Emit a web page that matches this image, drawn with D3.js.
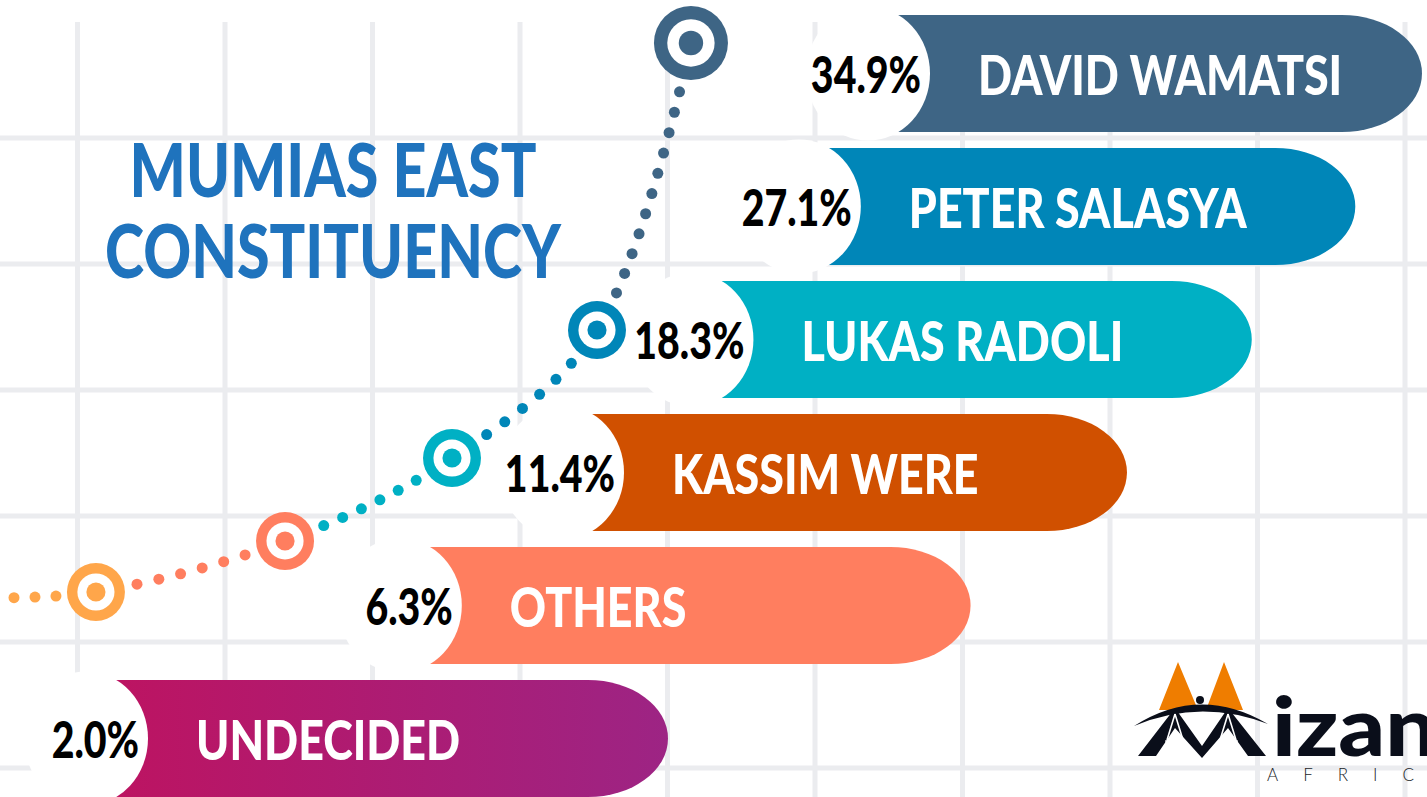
<!DOCTYPE html>
<html>
<head>
<meta charset="utf-8">
<script src="https://cdn.jsdelivr.net/npm/d3@7"></script>
<style>
  html, body { margin: 0; padding: 0; background: #fff; overflow: hidden; }
  svg { display: block; }
</style>
</head>
<body>
<svg id="chart" width="1427" height="797"></svg>
<script>
const candidates = ['DAVID WAMATSI', 'PETER SALASYA', 'LUKAS RADOLI', 'KASSIM WERE', 'OTHERS', 'UNDECIDED'];
const shares = [34.9, 27.1, 18.3, 11.4, 6.3, 2.0];
const barColors = ['#3e6585', '#0086b8', '#00b0c4', '#d05000', '#ff7e5f', 'url(#undecidedGrad)'];
const titleLines = ['MUMIAS EAST', 'CONSTITUENCY'];

// decorative rising trend, measured in grid cells (first point is the tail)
const trendU = [-0.6, 0.125, 1.407, 2.539, 3.522, 4.159];
const trendV = [4.65, 4.603, 4.198, 3.540, 2.524, 0.246];
const trendColors = ['#ffa64a', '#ff7e5f', '#00b0c4', '#0086b8', '#3e6585'];

const width = 1427,
  height = 797,
  svg = d3.select('#chart'),
  fontStack = "Lato, 'Open Sans', 'DejaVu Sans', sans-serif";

const defs = svg.append('defs');
const grad = defs.append('linearGradient').attr('id', 'undecidedGrad')
  .attr('x1', '0%').attr('x2', '100%').attr('y1', '0%').attr('y2', '0%');
grad.append('stop').attr('offset', '0%').attr('stop-color', '#be1360');
grad.append('stop').attr('offset', '100%').attr('stop-color', '#9d2484');

// grid scales (one unit = one cell)
const gx = d3.scaleLinear().domain([0, 1]).range([77.5, 225]),
  gy = d3.scaleLinear().domain([0, 1]).range([12, 138]);

const grid = svg.append('g').attr('stroke', '#ebecef').attr('stroke-width', 5);
grid.selectAll('line.v').data(d3.range(0, 10)).join('line')
  .attr('class', 'v')
  .attr('x1', d => gx(d)).attr('x2', d => gx(d))
  .attr('y1', 22).attr('y2', height);
grid.selectAll('line.h').data(d3.range(1, 7)).join('line')
  .attr('class', 'h')
  .attr('x1', 0).attr('x2', width)
  .attr('y1', d => gy(d)).attr('y2', d => gy(d));

// helper: condensed text (the original face is a narrow display font)
const label = (parent, x, y, txt, opts) => {
  const g = parent.append('g').attr('transform', `translate(${x},${y}) scale(${opts.sx},1)`);
  return g.append('text')
    .attr('text-anchor', opts.anchor || 'start')
    .style('font-family', fontStack)
    .style('font-weight', opts.weight || 900)
    .style('font-size', opts.size + 'px')
    .attr('fill', opts.fill)
    .text(txt);
};

// title
titleLines.forEach((t, i) => {
  label(svg, 333, 197 + i * 81, t, { sx: 0.8, size: 74, fill: '#1f73bd', anchor: 'middle' });
});

// trend line with targets
const trendPts = trendU.map((u, i) => [gx(u), gy(trendV[i])]);
const targetR = trendPts.slice(1).map((p, i, a) => (i === a.length - 1 ? 37 : 29));
const trendG = svg.append('g');
const guide = trendG.append('path')
  .attr('d', d3.line().curve(d3.curveCatmullRom.alpha(0.5))(trendPts))
  .attr('fill', 'none').attr('stroke', 'none');
const node = guide.node(),
  total = node.getTotalLength();
const targetS = trendPts.slice(1).map(p => {
  let best = 0, bd = Infinity;
  for (let s = 0; s <= total; s += 1) {
    const q = node.getPointAtLength(s);
    const d = (q.x - p[0]) ** 2 + (q.y - p[1]) ** 2;
    if (d < bd) { bd = d; best = s; }
  }
  return best;
});
const dots = [];
// tail
for (let s = targetS[0] - 40; s >= 0; s -= 21) dots.push({ s, c: trendColors[0] });
// segments between targets, coloured like the upper target
for (let i = 1; i < targetS.length; i++) {
  const a = targetS[i - 1] + targetR[i - 1] + 13,
    b = targetS[i] - targetR[i] - 13,
    n = Math.max(1, Math.round((b - a) / 21)),
    step = (b - a) / n;
  for (let k = 0; k <= n; k++) dots.push({ s: a + k * step, c: trendColors[i] });
}
trendG.selectAll('circle.dot').data(dots).join('circle')
  .attr('class', 'dot')
  .attr('cx', d => node.getPointAtLength(d.s).x)
  .attr('cy', d => node.getPointAtLength(d.s).y)
  .attr('r', 5.5)
  .attr('fill', d => d.c);

const targets = trendG.selectAll('g.target').data(trendPts.slice(1)).join('g')
  .attr('class', 'target')
  .attr('transform', d => `translate(${d[0]},${d[1]})`);
targets.append('circle').attr('r', (d, i) => targetR[i]).attr('fill', (d, i) => trendColors[i]);
targets.append('circle').attr('r', (d, i) => targetR[i] * 0.64).attr('fill', '#fff');
targets.append('circle').attr('r', (d, i) => targetR[i] * 0.33).attr('fill', (d, i) => trendColors[i]);

// bars: the white badge edge and the bar end both sit on log scales of the share
const x = d3.scaleLog().domain([2, 34.9]).range([148, 930]),
  xEnd = d3.scaleLog().domain([2, 34.9]).range([668, 1422]),
  y = d3.scalePoint().domain(candidates).range([73.5, 738.5]),
  barH = 117,
  capRx = 80,
  badgeRx = 62,
  badgeRy = 67,
  fmt = d3.format('.1f');

const rows = candidates.map((name, i) => ({ name, value: shares[i], color: barColors[i] }));
const barG = svg.append('g');

rows.forEach(d => {
  const cy = y(d.name),
    edge = x(d.value),
    x0 = edge - badgeRx,
    x1 = xEnd(d.value),
    top = cy - barH / 2,
    bot = cy + barH / 2;
  barG.append('path')
    .attr('d', `M${x0},${top}H${x1 - capRx}A${capRx},${barH / 2} 0 0 1 ${x1 - capRx},${bot}H${x0}Z`)
    .attr('fill', d.color);
  barG.append('ellipse')
    .attr('cx', x0).attr('cy', cy)
    .attr('rx', badgeRx).attr('ry', badgeRy)
    .attr('fill', '#fff');
  label(barG, edge - 9, cy + 19, fmt(d.value) + '%', { sx: 0.77, size: 51, fill: '#000', anchor: 'end' });
  label(barG, edge + 48, cy + 21, d.name, { sx: 0.8, size: 56, fill: '#fff' });
});

// Mizan Africa mark
const logo = svg.append('g').attr('transform', 'translate(1120,650)');
logo.append('path').attr('d', 'M39,60L58,12L78,60Z M86,60L104,12L123,60Z').attr('fill', '#ef7d00');
logo.append('path').attr('d', 'M18,106L55,58L82,96L108,58L146,106L128,106L108,78L82,108L55,78L36,106Z')
  .attr('fill', '#0a0e1a');
logo.append('path').attr('d', 'M14,76Q80,34 148,74Q80,48 14,76Z').attr('fill', '#0a0e1a');
logo.append('circle').attr('cx', 80).attr('cy', 50).attr('r', 4).attr('fill', '#0a0e1a');
logo.append('path')
  .attr('d', 'M55,64L47,90M55,64L63,90M108,64L100,90M108,64L116,90 M46,91A9,8 0 0 0 64,91Z M99,91A9,8 0 0 0 117,91Z')
  .attr('fill', 'none').attr('stroke', '#fff').attr('stroke-width', 1.6);
label(logo, 152, 106, 'izan', { sx: 1.12, size: 82, fill: '#0a0e1a' });
logo.append('text')
  .attr('x', 147).attr('y', 131)
  .style('font-family', fontStack).style('font-weight', 300).style('font-size', '17px')
  .style('letter-spacing', '25px')
  .attr('fill', '#1a1d28').text('AFRICA');
</script>
</body>
</html>
